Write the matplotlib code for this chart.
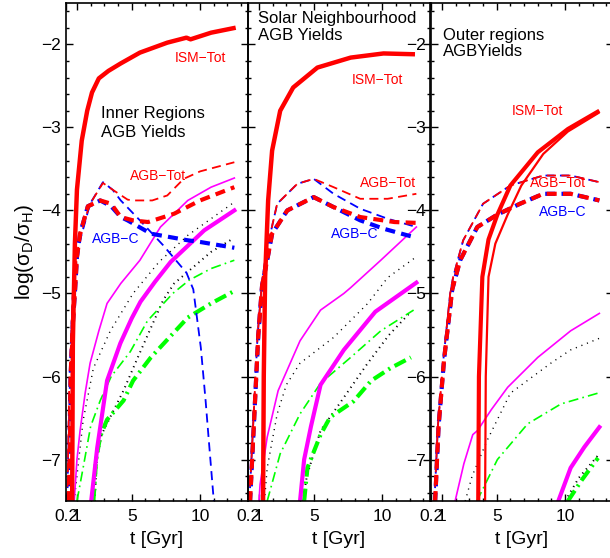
import matplotlib
matplotlib.use("Agg")
import matplotlib.pyplot as plt
from matplotlib.ticker import MultipleLocator, FixedLocator

plt.rcParams["font.family"] = ["Liberation Sans", "DejaVu Sans"]
plt.rcParams["mathtext.fontset"] = "custom"
plt.rcParams["mathtext.rm"] = "Liberation Sans"
plt.rcParams["mathtext.it"] = "Liberation Sans:italic"

RED = "#ff0000"
BLUE = "#0000ff"
MAG = "#ff00ff"
GRN = "#00ff00"

# ---------------- Inner regions ----------------
inner_ism_t = [0.65, 0.7, 0.85, 1.0, 1.35, 1.75, 2.1, 2.6, 3.3, 4.2, 5.6, 7.6, 9.0, 9.3, 10.8, 12.6]
inner_ism_y = [-7.5, -5.6, -4.4, -3.75, -3.16, -2.8, -2.58, -2.41, -2.32, -2.23, -2.10, -1.98, -1.92, -1.94, -1.86, -1.80]
inner_tot_thin_t = [0.3, 0.45, 0.7, 1.08, 1.5, 1.96, 2.9, 3.6, 4.7, 5.1, 6.5, 7.6, 8.8, 10.0, 12.5]
inner_tot_thin_y = [-7.5, -6.0, -5.0, -4.45, -4.15, -3.92, -3.67, -3.75, -3.87, -3.88, -3.88, -3.82, -3.62, -3.53, -3.42]
inner_c_thin_t = [0.3, 0.45, 0.7, 1.08, 1.96, 2.9, 3.6, 4.2, 5.6, 7.3, 9.0, 9.5, 10.05, 10.4, 10.6, 11.0]
inner_c_thin_y = [-7.5, -6.0, -5.0, -4.45, -3.92, -3.66, -3.75, -3.88, -4.12, -4.42, -4.75, -4.95, -5.65, -6.29, -6.7, -7.5]
inner_tot_thick_t = [0.4, 0.55, 0.7, 0.86, 1.0, 1.23, 1.8, 2.7, 3.5, 4.2, 5.1, 6.2, 8.1, 10.0, 12.5]
inner_tot_thick_y = [-7.5, -6.2, -5.36, -4.96, -4.56, -4.28, -3.95, -3.88, -3.92, -4.08, -4.12, -4.14, -4.04, -3.88, -3.72]
inner_c_thick_t = [0.4, 0.55, 0.7, 0.86, 1.0, 1.23, 1.8, 2.7, 3.5, 4.2, 4.7, 6.4, 9.1, 10.0, 12.5]
inner_c_thick_y = [-7.5, -6.2, -5.36, -4.96, -4.56, -4.28, -3.95, -3.88, -3.95, -4.08, -4.12, -4.28, -4.36, -4.38, -4.45]
inner_mag_thin_t = [0.8, 1.0, 1.23, 1.6, 1.96, 2.6, 3.2, 4.2, 5.6, 7.1, 9.1, 10.8, 12.5]
inner_mag_thin_y = [-7.5, -7.0, -6.65, -6.2, -5.84, -5.45, -5.12, -4.88, -4.6, -4.2, -3.88, -3.72, -3.61]
inner_mag_thick_t = [2.04, 2.48, 3.2, 4.17, 5.0, 5.64, 6.7, 7.85, 10.3, 12.5]
inner_mag_thick_y = [-7.5, -6.86, -6.05, -5.6, -5.3, -5.1, -4.86, -4.62, -4.24, -4.0]
inner_dot_thin_t = [0.8, 1.0, 1.45, 2.2, 3.44, 5.1, 7.0, 9.1, 12.5]
inner_dot_thin_y = [-7.5, -7.2, -6.53, -5.9, -5.45, -5.0, -4.62, -4.3, -3.9]
inner_dot_thick_t = [2.3, 2.45, 2.8, 3.4, 4.4, 5.5, 7.3, 8.1, 10.8, 12.4]
inner_dot_thick_y = [-7.5, -7.0, -6.7, -6.5, -6.17, -5.75, -5.08, -4.88, -4.5, -4.34]
inner_grn_thin_t = [1.0, 1.45, 2.0, 2.7, 3.5, 4.9, 6.15, 8.0, 9.2, 10.8, 12.5]
inner_grn_thin_y = [-7.5, -7.1, -6.6, -6.29, -6.0, -5.7, -5.33, -5.0, -4.84, -4.7, -4.6]
inner_grn_thick_t = [2.2, 2.4, 2.7, 3.2, 4.4, 5.1, 6.4, 9.1, 10.8, 12.5]
inner_grn_thick_y = [-7.5, -7.0, -6.72, -6.52, -6.29, -6.05, -5.77, -5.29, -5.12, -4.97]

# ---------------- Solar neighbourhood ----------------
solar_ism_t = [1.3, 1.35, 1.45, 1.67, 1.96, 2.55, 3.5, 5.27, 7.7, 10.1, 12.4]
solar_ism_y = [-7.5, -6.0, -4.8, -3.88, -3.28, -2.8, -2.52, -2.28, -2.16, -2.11, -2.12]
solar_tot_thin_t = [0.3, 0.6, 0.9, 1.23, 1.6, 2.33, 3.8, 5.0, 6.45, 8.4, 10.4, 12.5]
solar_tot_thin_y = [-7.5, -6.5, -5.5, -4.84, -4.45, -3.92, -3.68, -3.62, -3.72, -3.86, -3.86, -3.8]
solar_c_thin_t = [0.3, 0.6, 0.9, 1.23, 1.6, 2.33, 3.8, 5.0, 6.45, 8.4, 10.4, 12.5]
solar_c_thin_y = [-7.5, -6.5, -5.5, -4.84, -4.45, -3.92, -3.68, -3.62, -3.8, -3.98, -4.1, -4.2]
solar_tot_thick_t = [0.35, 0.65, 0.95, 1.23, 1.6, 1.96, 3.07, 5.0, 6.45, 8.4, 10.9, 12.5]
solar_tot_thick_y = [-7.5, -6.5, -5.5, -4.9, -4.6, -4.28, -4.0, -3.84, -3.96, -4.08, -4.14, -4.15]
solar_c_thick_t = [0.35, 0.65, 0.95, 1.23, 1.6, 1.96, 3.07, 5.0, 6.45, 8.4, 10.1, 12.5]
solar_c_thick_y = [-7.5, -6.5, -5.5, -4.9, -4.6, -4.28, -4.0, -3.84, -3.96, -4.12, -4.22, -4.33]
solar_mag_thin_t = [1.0, 1.08, 1.6, 2.4, 4.0, 5.5, 7.2, 7.7, 9.9, 12.5]
solar_mag_thin_y = [-7.5, -7.3, -6.73, -6.17, -5.57, -5.2, -5.0, -4.93, -4.6, -4.2]
solar_mag_thick_t = [4.0, 4.3, 4.8, 5.5, 7.2, 9.5, 12.5]
solar_mag_thick_y = [-7.5, -7.0, -6.6, -6.1, -5.68, -5.22, -4.87]
solar_dot_thin_t = [1.4, 1.6, 2.33, 3.0, 4.0, 6.45, 8.95, 10.4, 12.4]
solar_dot_thin_y = [-7.5, -7.1, -6.45, -6.1, -5.84, -5.53, -5.12, -4.81, -4.57]
solar_dot_thick_t = [4.2, 4.5, 5.5, 7.0, 8.9, 10.5, 12.1]
solar_dot_thick_y = [-7.5, -7.2, -6.65, -6.3, -5.85, -5.5, -5.22]
solar_grn_thin_t = [1.6, 2.55, 4.0, 5.5, 7.7, 9.9, 12.3]
solar_grn_thin_y = [-7.5, -6.93, -6.45, -6.08, -5.77, -5.45, -5.2]
solar_grn_thick_t = [4.3, 4.54, 5.5, 6.2, 7.9, 9.2, 10.6, 12.1]
solar_grn_thick_y = [-7.5, -7.1, -6.7, -6.49, -6.3, -6.05, -5.9, -5.77]

# ---------------- Outer regions ----------------
outer_ism_thick_t = [3.65, 3.7, 3.95, 4.4, 5.05, 6.0, 8.0, 10.2, 12.5]
outer_ism_thick_y = [-7.5, -6.0, -4.8, -4.35, -4.05, -3.7, -3.3, -3.02, -2.8]
outer_ism_thin_t = [4.15, 4.2, 4.4, 4.9, 5.8, 6.8, 8.4, 10.2, 12.5]
outer_ism_thin_y = [-7.5, -6.0, -4.8, -4.4, -4.05, -3.7, -3.32, -3.05, -2.82]
outer_tot_thin_t = [0.45, 0.7, 1.1, 1.6, 1.82, 2.55, 4.0, 6.0, 8.4, 10.4, 12.5]
outer_tot_thin_y = [-7.5, -6.6, -5.8, -5.0, -4.8, -4.36, -3.92, -3.7, -3.58, -3.58, -3.66]
outer_c_thin_t = [0.45, 0.7, 1.1, 1.6, 1.82, 2.55, 4.0, 6.0, 8.4, 10.4, 12.5]
outer_c_thin_y = [-7.5, -6.6, -5.8, -5.0, -4.8, -4.36, -3.92, -3.7, -3.58, -3.58, -3.66]
outer_tot_thick_t = [0.5, 0.75, 1.15, 1.75, 2.33, 3.58, 5.05, 6.7, 8.4, 10.4, 12.5]
outer_tot_thick_y = [-7.5, -6.6, -5.8, -4.95, -4.6, -4.2, -4.05, -3.92, -3.8, -3.8, -3.88]
outer_c_thick_t = [0.5, 0.75, 1.15, 1.75, 2.33, 3.58, 5.05, 6.7, 8.4, 10.4, 12.5]
outer_c_thick_y = [-7.5, -6.6, -5.8, -4.95, -4.6, -4.2, -4.05, -3.92, -3.8, -3.8, -3.88]
outer_mag_thin_t = [1.96, 2.6, 3.25, 3.6, 4.6, 5.8, 8.0, 10.4, 12.5]
outer_mag_thin_y = [-7.5, -7.05, -6.7, -6.65, -6.4, -6.13, -5.77, -5.45, -5.24]
outer_mag_thick_t = [9.5, 10.4, 11.4, 12.5]
outer_mag_thick_y = [-7.5, -7.1, -6.85, -6.61]
outer_dot_thin_t = [2.7, 3.2, 4.3, 6.0, 8.95, 10.4, 12.5]
outer_dot_thin_y = [-7.5, -7.2, -6.77, -6.2, -5.84, -5.68, -5.54]
outer_dot_thick_t = [10.0, 11.0, 12.4]
outer_dot_thick_y = [-7.5, -7.22, -6.95]
outer_grn_thin_t = [3.55, 5.05, 7.26, 9.7, 12.4]
outer_grn_thin_y = [-7.5, -7.0, -6.57, -6.33, -6.2]
outer_grn_thick_t = [10.2, 11.2, 12.4]
outer_grn_thick_y = [-7.5, -7.25, -6.98]

x_ticks = [0.2, 1, 5, 10]
x_ticklabels = ["0.2", "1", "5", "10"]
y_ticks = [-7, -6, -5, -4, -3, -2]

# line styles (dash lengths in units of line width)
THIN_DASH = (0, (5, 3))
THICK_DASH = (0, (2.4, 1.5))
THIN_DASH_B = (0.8, (5, 3))
THICK_DASH_B = (0.35, (2.4, 1.5))
THIN_DDOT = (0, (6, 2.5, 1, 2.5))
THICK_DDOT = (0, (3, 1.2, 0.5, 1.2))
THIN_DOT = (0, (0.8, 3.5))
THICK_DOT = (0, (0.6, 2.2))


def draw_panel(ax, s):
    # s: dict of series for one panel
    ax.plot(s["dot_thin"][0], s["dot_thin"][1], color="k", lw=1.0, ls=THIN_DOT)
    ax.plot(s["dot_thick"][0], s["dot_thick"][1], color="k", lw=1.4, ls=THICK_DOT)
    ax.plot(s["grn_thin"][0], s["grn_thin"][1], color=GRN, lw=1.2, ls=THIN_DDOT)
    ax.plot(s["grn_thick"][0], s["grn_thick"][1], color=GRN, lw=3.0, ls=THICK_DDOT)
    ax.plot(s["mag_thin"][0], s["mag_thin"][1], color=MAG, lw=1.2)
    ax.plot(s["mag_thick"][0], s["mag_thick"][1], color=MAG, lw=3.0)
    ax.plot(s["c_thin"][0], s["c_thin"][1], color=BLUE, lw=1.3, ls=THIN_DASH_B)
    ax.plot(s["c_thick"][0], s["c_thick"][1], color=BLUE, lw=3.0, ls=THICK_DASH_B)
    ax.plot(s["tot_thin"][0], s["tot_thin"][1], color=RED, lw=1.3, ls=THIN_DASH)
    ax.plot(s["tot_thick"][0], s["tot_thick"][1], color=RED, lw=3.0, ls=THICK_DASH)
    for t, y, lw in s["ism"]:
        ax.plot(t, y, color=RED, lw=lw, solid_capstyle="butt")


def style_axes(ax, left_labels):
    ax.set_xlim(0.2, 13.5)
    ax.set_ylim(-7.5, -1.5)
    ax.xaxis.set_major_locator(FixedLocator(x_ticks))
    ax.set_xticklabels(x_ticklabels)
    ax.xaxis.set_minor_locator(MultipleLocator(1))
    ax.set_yticks(y_ticks)
    ax.yaxis.set_minor_locator(MultipleLocator(0.2))
    ax.tick_params(which="both", direction="in", top=True, right=True,
                   labelsize=12.5, width=1.0, labelleft=left_labels)
    ax.tick_params(which="major", length=5)
    ax.tick_params(which="minor", length=2.5)
    ax.tick_params(axis="x", pad=6)
    for sp in ax.spines.values():
        sp.set_linewidth(1.2)
    ax.set_xlabel("t [Gyr]", fontsize=14, labelpad=5)
    ax.patch.set_alpha(0)


fig = plt.figure(figsize=(6.1, 5.58), dpi=100)
w = 0.2984
lefts = [0.1082, 0.4066, 0.7066]
bottom, height = 0.102, 0.893

panels = [
    dict(ism=[(inner_ism_t, inner_ism_y, 3.2)],
         tot_thin=(inner_tot_thin_t, inner_tot_thin_y), c_thin=(inner_c_thin_t, inner_c_thin_y),
         tot_thick=(inner_tot_thick_t, inner_tot_thick_y), c_thick=(inner_c_thick_t, inner_c_thick_y),
         mag_thin=(inner_mag_thin_t, inner_mag_thin_y), mag_thick=(inner_mag_thick_t, inner_mag_thick_y),
         dot_thin=(inner_dot_thin_t, inner_dot_thin_y), dot_thick=(inner_dot_thick_t, inner_dot_thick_y),
         grn_thin=(inner_grn_thin_t, inner_grn_thin_y), grn_thick=(inner_grn_thick_t, inner_grn_thick_y)),
    dict(ism=[(solar_ism_t, solar_ism_y, 3.2)],
         tot_thin=(solar_tot_thin_t, solar_tot_thin_y), c_thin=(solar_c_thin_t, solar_c_thin_y),
         tot_thick=(solar_tot_thick_t, solar_tot_thick_y), c_thick=(solar_c_thick_t, solar_c_thick_y),
         mag_thin=(solar_mag_thin_t, solar_mag_thin_y), mag_thick=(solar_mag_thick_t, solar_mag_thick_y),
         dot_thin=(solar_dot_thin_t, solar_dot_thin_y), dot_thick=(solar_dot_thick_t, solar_dot_thick_y),
         grn_thin=(solar_grn_thin_t, solar_grn_thin_y), grn_thick=(solar_grn_thick_t, solar_grn_thick_y)),
    dict(ism=[(outer_ism_thick_t, outer_ism_thick_y, 3.0), (outer_ism_thin_t, outer_ism_thin_y, 1.6)],
         tot_thin=(outer_tot_thin_t, outer_tot_thin_y), c_thin=(outer_c_thin_t, outer_c_thin_y),
         tot_thick=(outer_tot_thick_t, outer_tot_thick_y), c_thick=(outer_c_thick_t, outer_c_thick_y),
         mag_thin=(outer_mag_thin_t, outer_mag_thin_y), mag_thick=(outer_mag_thick_t, outer_mag_thick_y),
         dot_thin=(outer_dot_thin_t, outer_dot_thin_y), dot_thick=(outer_dot_thick_t, outer_dot_thick_y),
         grn_thin=(outer_grn_thin_t, outer_grn_thin_y), grn_thick=(outer_grn_thick_t, outer_grn_thick_y)),
]

axes = []
for i, (lx, s) in enumerate(zip(lefts, panels)):
    ax = fig.add_axes([lx, bottom, w, height])
    draw_panel(ax, s)
    style_axes(ax, left_labels=(i != 1))
    axes.append(ax)

ax1, ax2, ax3 = axes
ax1.set_ylabel(r"log(σ$_\mathrm{D}$/σ$_\mathrm{H}$)", fontsize=15, labelpad=4)

# panel annotations
ax1.text(2.77, -2.95, "Inner Regions\nAGB Yields", fontsize=12, ha="left", va="center", linespacing=1.35)
ax1.text(10.0, -2.17, "ISM\u2212Tot", color=RED, fontsize=10, ha="center", va="center")
ax1.text(6.89, -3.58, "AGB\u2212Tot", color=RED, fontsize=10, ha="center", va="center")
ax1.text(3.8, -4.34, "AGB\u2212C", color=BLUE, fontsize=10, ha="center", va="center")

ax2.text(0.95, -1.6, "Solar Neighbourhood\nAGB Yields", fontsize=12, ha="left", va="top", linespacing=1.2)
ax2.text(9.66, -2.43, "ISM\u2212Tot", color=RED, fontsize=10, ha="center", va="center")
ax2.text(10.4, -3.67, "AGB\u2212Tot", color=RED, fontsize=10, ha="center", va="center")
ax2.text(8.0, -4.28, "AGB\u2212C", color=BLUE, fontsize=10, ha="center", va="center")

ax3.text(1.08, -1.8, "Outer regions\nAGBYields", fontsize=12, ha="left", va="top", linespacing=1.1)
ax3.text(8.0, -2.8, "ISM\u2212Tot", color=RED, fontsize=10, ha="center", va="center")
ax3.text(9.46, -3.67, "AGB\u2212Tot", color=RED, fontsize=10, ha="center", va="center")
ax3.text(9.83, -4.02, "AGB\u2212C", color=BLUE, fontsize=10, ha="center", va="center")

fig.savefig("out.png", dpi=100)
